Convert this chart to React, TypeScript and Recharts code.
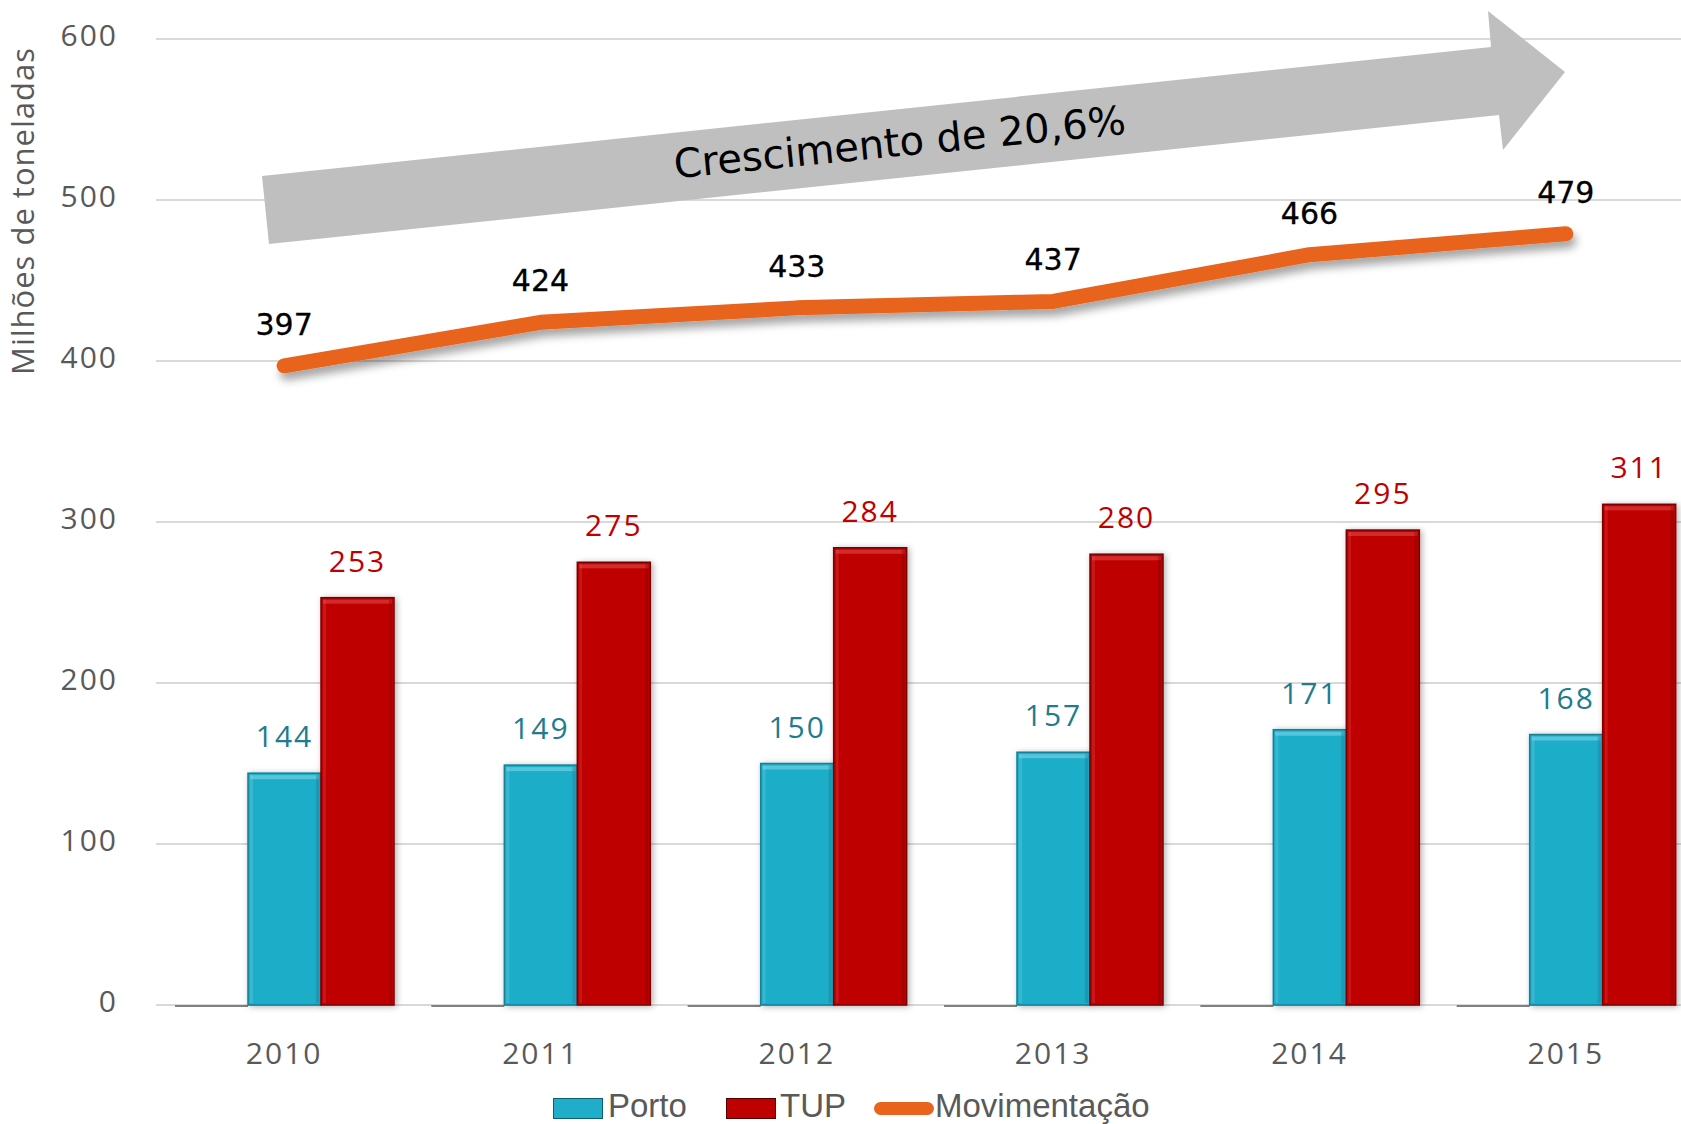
import {
  ComposedChart,
  Bar,
  Line,
  XAxis,
  YAxis,
  CartesianGrid,
  LabelList,
  Customized,
} from "recharts";

const years = ["2010", "2011", "2012", "2013", "2014", "2015"];
const porto = [144, 149, 150, 157, 171, 168];
const tup = [253, 275, 284, 280, 295, 311];
const movimentacao = [397, 424, 433, 437, 466, 479];
// empty series that Excel leaves as a flat stub left of each group
const vazio = [0, 0, 0, 0, 0, 0];
const yTicks = [0, 100, 200, 300, 400, 500, 600];

const data = years.map((year, i) => ({
  year,
  vazio: vazio[i],
  porto: porto[i],
  tup: tup[i],
  mov: movimentacao[i],
}));

const TICK = { fill: "#595959", fontSize: 30, fontFamily: "Open Sans", letterSpacing: 2 };

// bevelled bar like the Office 3D style
const makeBevel = (fill: string, dark: string, light: string) => (props: any) => {
  const { x, y, width, height } = props;
  if (!height || height <= 0) return null;
  return (
    <g filter="url(#barShadow)">
      <rect x={x} y={y} width={width} height={height} fill={fill} stroke={dark} strokeWidth={1.5} />
      <rect x={x + 2} y={y + 2} width={width - 4} height={4} fill={light} opacity={0.55} />
      <rect x={x + 2} y={y + 2} width={3} height={height - 4} fill={light} opacity={0.25} />
      <rect x={x + width - 5} y={y + 2} width={3} height={height - 4} fill={dark} opacity={0.35} />
    </g>
  );
};

const StubShape = (props: any) => {
  const { x, y, width, height } = props;
  const base = y + (height || 0) + 1;
  return <line x1={x} x2={x + width} y1={base} y2={base} stroke="#808080" strokeWidth={2} />;
};

// big grey growth arrow (decoration only)
const GrowthArrow = () => (
  <g>
    <defs>
      <filter id="lineShadow" x="-10%" y="-50%" width="120%" height="200%">
        <feDropShadow dx="3" dy="7" stdDeviation="4" floodColor="#000" floodOpacity="0.35" />
      </filter>
      <filter id="barShadow" x="-20%" y="-10%" width="140%" height="120%">
        <feDropShadow dx="2" dy="1" stdDeviation="3" floodColor="#000" floodOpacity="0.3" />
      </filter>
    </defs>
    <polygon
      points="262,176 1491,47 1488,11 1565,72 1503,150 1499,115 269,244"
      fill="#BFBFBF"
    />
    <text
      x={901}
      y={156}
      textAnchor="middle"
      fontFamily="DejaVu Sans"
      fontSize={40}
      fill="#000"
      transform="rotate(-5.6 901 156)"
    >
      Crescimento de 20,6%
    </text>
  </g>
);

const AxisTitle = () => (
  <text
    x={34}
    y={211}
    textAnchor="middle"
    fontFamily="Open Sans"
    fontSize={31}
    letterSpacing={1}
    fill="#595959"
    transform="rotate(-90 34 211)"
  >
    Milhões de toneladas
  </text>
);

const legendText: React.CSSProperties = {
  position: "absolute",
  top: 1089,
  fontFamily: "Liberation Sans",
  fontSize: 33,
  color: "#595959",
  lineHeight: "33px",
  whiteSpace: "nowrap",
};

export default function App() {
  return (
    <div
      style={{
        position: "absolute",
        left: 0,
        top: 0,
        width: 1681,
        height: 1124,
        overflow: "hidden",
        background: "#fff",
      }}
    >
      <ComposedChart
        width={1700}
        height={1124}
        data={data}
        margin={{ top: 39, right: 6, bottom: 59, left: 0 }}
        barSize={73}
        barGap={0}
      >
        <CartesianGrid vertical={false} stroke="#D9D9D9" strokeWidth={2} />
        <Customized component={<GrowthArrow />} />
        <Customized component={<AxisTitle />} />
        <XAxis
          dataKey="year"
          axisLine={false}
          tickLine={false}
          tickMargin={32}
          height={60}
          tick={TICK}
        />
        <YAxis
          width={156}
          domain={[0, 600]}
          ticks={yTicks}
          axisLine={false}
          tickLine={false}
          tickMargin={32}
          tick={{ ...TICK, dy: -4 }}
        />
        <Bar dataKey="vazio" isAnimationActive={false} shape={StubShape} />
        <Bar
          dataKey="porto"
          fill="#1FADC9"
          isAnimationActive={false}
          shape={makeBevel("#1FADC9", "#167F94", "#7FD8EA")}
        >
          <LabelList
            dataKey="porto"
            position="top"
            offset={26}
            fill="#1F7B8F"
            fontSize={30}
            fontFamily="Open Sans"
            letterSpacing={2}
          />
        </Bar>
        <Bar
          dataKey="tup"
          fill="#BF0000"
          isAnimationActive={false}
          shape={makeBevel("#BF0000", "#7A0000", "#E85050")}
        >
          <LabelList
            dataKey="tup"
            position="top"
            offset={26}
            fill="#C00000"
            fontSize={30}
            fontFamily="Open Sans"
            letterSpacing={2}
          />
        </Bar>
        <Line
          dataKey="mov"
          type="linear"
          stroke="#E8631D"
          strokeWidth={15}
          strokeLinecap="round"
          strokeLinejoin="round"
          filter="url(#lineShadow)"
          dot={false}
          activeDot={false}
          isAnimationActive={false}
        >
          <LabelList
            dataKey="mov"
            position="top"
            offset={31}
            fill="#000"
            stroke="#000"
            strokeWidth={0.3}
            fontSize={30}
            fontFamily="DejaVu Sans"
          />
        </Line>
      </ComposedChart>

      {/* legend */}
      <div style={{ position: "absolute", left: 553, top: 1098, width: 50, height: 21, background: "#1FADC9", border: "1.5px solid #0E5E6E", boxSizing: "border-box" }} />
      <div style={{ ...legendText, left: 608 }}>Porto</div>
      <div style={{ position: "absolute", left: 726, top: 1098, width: 50, height: 21, background: "#BF0000", border: "1.5px solid #500000", boxSizing: "border-box" }} />
      <div style={{ ...legendText, left: 780 }}>TUP</div>
      <div style={{ position: "absolute", left: 874, top: 1102, width: 60, height: 13, background: "#E8631D", borderRadius: 7 }} />
      <div style={{ ...legendText, left: 935 }}>Movimentação</div>
    </div>
  );
}
